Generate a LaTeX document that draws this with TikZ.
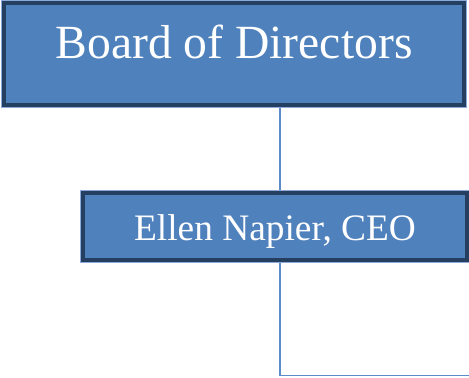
\documentclass[tikz,border=0pt]{standalone}
\usepackage{fontspec}
\setmainfont{Liberation Serif}
\definecolor{boxfill}{HTML}{4F81BD}
\definecolor{boxedge}{HTML}{243F60}
\definecolor{boxglow}{HTML}{8EAADB}
\definecolor{linkcol}{HTML}{5B8BC9}
\begin{document}
\begin{tikzpicture}[x=1bp,y=-1bp,
  orgbox/.style={fill=boxfill, draw=boxedge, line width=4bp, inner sep=0pt, outer sep=0pt,
    text=white, preaction={draw=boxglow, line width=6bp}},
  link/.style={draw=linkcol, line width=1.8bp}]
\useasboundingbox (0,0) rectangle (469,377);
\node[orgbox, minimum width=460bp, text height=55.5bp, text depth=46.5bp,
  font=\fontsize{47.8}{50}\selectfont] (board) at (234,53.5) {Board of Directors};
\node[orgbox, minimum width=384bp, text height=47bp, text depth=20bp,
  font=\fontsize{37.5}{40}\selectfont] (ceo) at (275,226.5) {Ellen Napier, CEO};
\coordinate (lx) at (280,0);
\coordinate (endpt) at (470,375.5);
\draw[link] ([yshift=-3bp]board.south -| lx) -- ([yshift=3bp]ceo.north -| lx);
\draw[link] ([yshift=-3bp]ceo.south -| lx) |- (endpt);
\end{tikzpicture}
\end{document}
